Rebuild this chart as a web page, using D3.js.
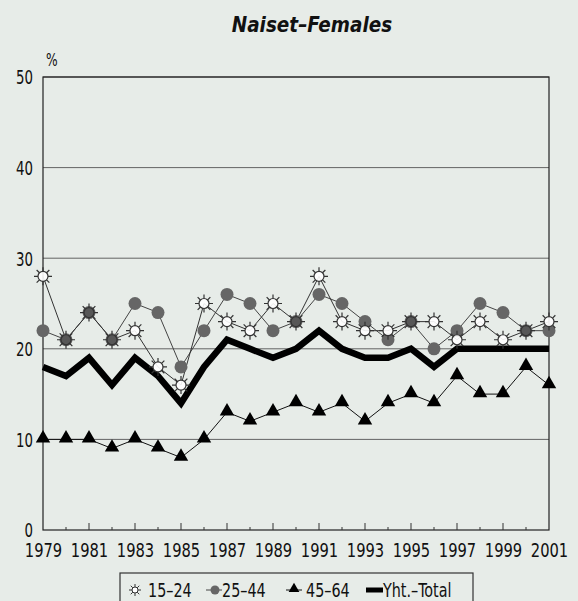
<!DOCTYPE html>
<html>
<head>
<meta charset="utf-8">
<script src="https://cdn.jsdelivr.net/npm/d3@7"></script>
<style>
  body { margin: 0; background: #e7ece8; }
  text { font-family: "DejaVu Sans Condensed", "Liberation Sans", sans-serif; fill: #111; }
</style>
</head>
<body>
<div id="chart"></div>
<script>
const years = d3.range(1979, 2002);
const yearTicks = d3.range(1979, 2002, 2);
const yTicks = [0, 10, 20, 30, 40, 50];

const age1524 = [28, 21, 24, 21, 22, 18, 16, 25, 23, 22, 25, 23, 28, 23, 22, 22, 23, 23, 21, 23, 21, 22, 23];
const age2544 = [22, 21, 24, 21, 25, 24, 18, 22, 26, 25, 22, 23, 26, 25, 23, 21, 23, 20, 22, 25, 24, 22, 22];
const age4564 = [10, 10, 10, 9, 10, 9, 8, 10, 13, 12, 13, 14, 13, 14, 12, 14, 15, 14, 17, 15, 15, 18, 16];
const total   = [18, 17, 19, 16, 19, 17, 14, 18, 21, 20, 19, 20, 22, 20, 19, 19, 20, 18, 20, 20, 20, 20, 20];

const W = 578, H = 601;
const margin = {top: 77, right: 29, bottom: 71, left: 43};

const svg = d3.select("#chart").append("svg")
    .attr("width", W)
    .attr("height", H);

// squeeze text horizontally so it looks like the narrow face of the original
function narrow(sel, k) {
  sel.each(function() {
    const len = this.getComputedTextLength();
    d3.select(this).attr("textLength", len * k).attr("lengthAdjust", "spacingAndGlyphs");
  });
}

const x = d3.scaleLinear().domain([1979, 2001]).range([margin.left, W - margin.right]);
const y = d3.scaleLinear().domain([0, 50]).range([H - margin.bottom, margin.top]);

// title
svg.append("text")
    .attr("x", 312).attr("y", 32)
    .attr("text-anchor", "middle")
    .style("font-size", "22px").style("font-weight", "bold").style("font-style", "italic")
    .text("Naiset\u2013Females")
    .call(narrow, 0.93);

svg.append("text")
    .attr("x", 46).attr("y", 66)
    .style("font-size", "17px")
    .text("%")
    .call(narrow, 0.8);

// gridlines
svg.append("g").selectAll("line")
  .data(yTicks.filter(d => d > 0))
  .join("line")
    .attr("x1", x(1979)).attr("x2", x(2001))
    .attr("y1", d => y(d)).attr("y2", d => y(d))
    .attr("stroke", "#555").attr("stroke-width", 0.9);

// frame
svg.append("rect")
    .attr("x", x(1979)).attr("y", y(50))
    .attr("width", x(2001) - x(1979)).attr("height", y(0) - y(50))
    .attr("fill", "none").attr("stroke", "#222").attr("stroke-width", 1.2);

// y axis
const yAxis = svg.append("g")
    .attr("transform", `translate(${x(1979)},0)`)
    .call(d3.axisLeft(y).tickValues(yTicks).tickSize(0).tickPadding(10));
yAxis.select(".domain").remove();
yAxis.selectAll("text").style("font-size", "19px").attr("dy", "0.36em").call(narrow, 0.78);

// x axis: ticks every year, longer ones on odd years, pointing up
const xAxis = svg.append("g")
    .attr("transform", `translate(0,${y(0)})`)
    .call(d3.axisBottom(x).tickValues(yearTicks).tickFormat(d3.format("d")).tickSize(0).tickPadding(14));
xAxis.select(".domain").remove();
xAxis.selectAll("text").style("font-size", "19px").call(narrow, 0.86);

svg.append("g").selectAll("line")
  .data(years.slice(1, -1))
  .join("line")
    .attr("x1", d => x(d)).attr("x2", d => x(d))
    .attr("y1", y(0))
    .attr("y2", d => y(0) - ((d - 1979) % 2 === 0 ? 7 : 3))
    .attr("stroke", "#333").attr("stroke-width", 1);

const line = d3.line().x((d, i) => x(years[i])).y(d => y(d));

// 45-64
svg.append("path").datum(age4564)
    .attr("d", line).attr("fill", "none").attr("stroke", "#111").attr("stroke-width", 1);

// 25-44
svg.append("path").datum(age2544)
    .attr("d", line).attr("fill", "none").attr("stroke", "#444").attr("stroke-width", 1);

// 15-24
svg.append("path").datum(age1524)
    .attr("d", line).attr("fill", "none").attr("stroke", "#333").attr("stroke-width", 1);

// total
svg.append("path").datum(total)
    .attr("d", line).attr("fill", "none").attr("stroke", "#000")
    .attr("stroke-width", 6.5).attr("stroke-linejoin", "miter");

// markers
function rays(r0, r1) {
  return d3.range(8).map(k => {
    const a = k * Math.PI / 4;
    return `M${(r0 * Math.cos(a)).toFixed(2)},${(r0 * Math.sin(a)).toFixed(2)}L${(r1 * Math.cos(a)).toFixed(2)},${(r1 * Math.sin(a)).toFixed(2)}`;
  }).join("");
}

const tri = d3.symbol().type(d3.symbolTriangle).size(90);

svg.append("g").selectAll("path")
  .data(age4564)
  .join("path")
    .attr("d", tri)
    .attr("transform", (d, i) => `translate(${x(years[i])},${y(d) - 1})`)
    .attr("fill", "#000");

svg.append("g").selectAll("circle")
  .data(age2544)
  .join("circle")
    .attr("cx", (d, i) => x(years[i])).attr("cy", d => y(d))
    .attr("r", 6.5)
    .attr("fill", "#666");

const sun = svg.append("g").selectAll("g")
  .data(age1524)
  .join("g")
    .attr("transform", (d, i) => `translate(${x(years[i])},${y(d)})`);
sun.append("path").attr("d", rays(5, 9)).attr("stroke", "#333").attr("stroke-width", 1.2);
sun.append("circle").attr("r", 5)
    .attr("fill", (d, i) => age2544[i] === d ? "#555" : "#fff")
    .attr("fill-opacity", 0.9)
    .attr("stroke", "#333").attr("stroke-width", 1.2);

// legend
const lg = svg.append("g");
lg.append("rect")
    .attr("x", 120).attr("y", 573).attr("width", 353).attr("height", 40)
    .attr("fill", "none").attr("stroke", "#333").attr("stroke-width", 1.2);

const legendItems = [
  {label: "15\u201324", type: "sun", x: 128},
  {label: "25\u201344", type: "circle", x: 206},
  {label: "45\u201364", type: "tri", x: 286},
  {label: "Yht.\u2013Total", type: "total", x: 366}
];
const ly = 590;
legendItems.forEach(it => {
  const g = lg.append("g").attr("transform", `translate(${it.x},${ly})`);
  let tx = 20;
  if (it.type === "sun") {
    g.append("path").attr("d", rays(3, 6)).attr("transform", "translate(7,0)").attr("stroke", "#333").attr("stroke-width", 1);
    g.append("circle").attr("cx", 7).attr("r", 3).attr("fill", "#fff").attr("stroke", "#333");
  } else if (it.type === "circle") {
    g.append("line").attr("x1", 0).attr("x2", 16).attr("stroke", "#444");
    g.append("circle").attr("cx", 9).attr("r", 4.5).attr("fill", "#666");
    tx = 16;
  } else if (it.type === "tri") {
    g.append("line").attr("x1", 0).attr("x2", 16).attr("stroke", "#111");
    g.append("path").attr("d", d3.symbol().type(d3.symbolTriangle).size(50)).attr("transform", "translate(8,-1)").attr("fill", "#000");
  } else {
    g.append("line").attr("x1", 0).attr("x2", 17).attr("stroke", "#000").attr("stroke-width", 5);
    tx = 17;
  }
  g.append("text").attr("x", tx).attr("y", 7).style("font-size", "19px").text(it.label).call(narrow, 0.84);
});
</script>
</body>
</html>
